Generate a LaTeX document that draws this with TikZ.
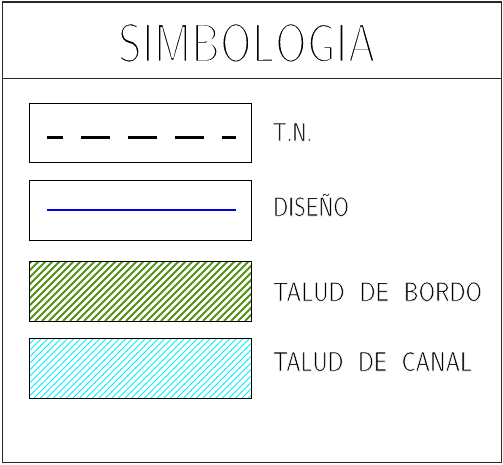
\documentclass[tikz,border=0pt]{standalone}
\usepackage{graphicx}
\definecolor{bordergray}{RGB}{40,40,40}
\definecolor{hatchgreen}{RGB}{85,145,20}
\definecolor{hatchcyan}{RGB}{0,240,255}
\definecolor{designblue}{RGB}{0,0,230}
\tikzset{
  frame/.style={draw=bordergray, line width=1.6pt},
  legbox/.style={draw=black, line width=1pt},
  lbl/.style={anchor=base west, inner sep=0pt, outer sep=0pt},
}
\newcommand{\thinon}[1]{\special{pdf:literal 2 Tr 1 G #1 w}}
\newcommand{\thinoff}{\special{pdf:literal 0 Tr 0 G 1 w}}
\newcommand{\cadtxt}[4]{\resizebox{#1}{#2}{\fontsize{60}{60}\sffamily\selectfont\thinon{#3}#4\thinoff}}
\begin{document}
\begin{tikzpicture}[x=1pt, y=-1pt]
\useasboundingbox (0,0) rectangle (503,464);
% outer frame and header
\draw[frame] (2.5,2) rectangle (501.5,462.5);
\draw[frame] (2.5,78.5) -- (501.5,78.5);
\node[lbl] (title) at (118,62) {\cadtxt{258pt}{39pt}{2.8}{SIMBOLOGIA}};
% box 1: T.N.
\draw[legbox] (29,103.5) rectangle (251,162.5);
\coordinate (tnA) at (47,137.7);
\coordinate (tnB) at (236,137.7);
\draw[line width=3pt, black, dash pattern=on 29pt off 18pt, dash phase=13pt] (tnA) -- (tnB);
\node[lbl] (tn) at (273,141) {\cadtxt{39pt}{18pt}{1.3}{T.N.}};
% box 2: DISENO
\draw[legbox] (29,180.5) rectangle (251,240);
\coordinate (dsA) at (47,210);
\coordinate (dsB) at (236,210);
\draw[line width=2.2pt, designblue] (dsA) -- (dsB);
\node[lbl] (ds) at (273,216) {\cadtxt{76pt}{19pt}{1.3}{DISE\smash{Ñ}O}};
% box 3: talud de bordo
\begin{scope}
\clip (29,261.5) rectangle (251,321);
\foreach \i in {-70,-63,...,260} {
  \draw[hatchgreen, line width=1.8pt] (\i,321) -- ++(60,-60);
}
\end{scope}
\draw[legbox] (29,261.5) rectangle (251,321);
\node[lbl] (tb) at (273,301) {\cadtxt{209pt}{19pt}{1.3}{TALUD\ \ DE\ \ BORDO}};
% box 4: talud de canal
\begin{scope}
\clip (29,338.5) rectangle (251,398);
\foreach \i in {-70,-63.5,...,260} {
  \draw[hatchcyan, line width=0.9pt] (\i,398) -- ++(60,-60);
}
\end{scope}
\draw[legbox] (29,338.5) rectangle (251,398);
\node[lbl] (tc) at (273,371) {\cadtxt{199pt}{19pt}{1.3}{TALUD\ \ DE\ \ CANAL}};
\end{tikzpicture}
\end{document}
